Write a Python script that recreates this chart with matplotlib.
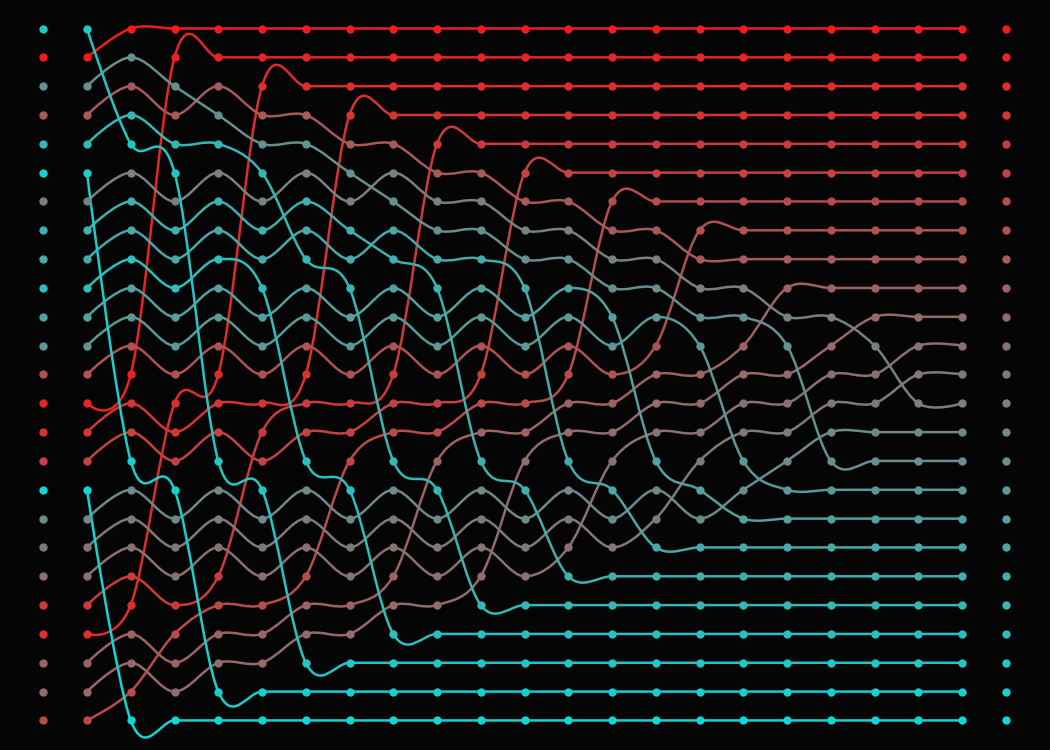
import numpy as np
import matplotlib
matplotlib.use("Agg")
import matplotlib.pyplot as plt
from matplotlib.path import Path
from matplotlib.patches import PathPatch

# starting order of the 25 values (0 = smallest, top row first)
order = [22, 0, 15, 8, 20, 23, 13, 19, 18, 21, 17, 16, 7, 1, 3, 5,
         24, 14, 12, 11, 4, 2, 9, 10, 6]
N = len(order)

# colour of the smallest and the largest value
c_lo = np.array([242, 28, 28]) / 255
c_hi = np.array([16, 214, 214]) / 255


def shaker_states(values):
    # cocktail shaker sort, keeps the array after every pass
    a = list(values)
    out = [a[:]]
    forward = True
    while True:
        swapped = False
        if forward:
            for i in range(len(a) - 1):
                if a[i] > a[i + 1]:
                    a[i], a[i + 1] = a[i + 1], a[i]
                    swapped = True
        else:
            for i in range(len(a) - 1, 0, -1):
                if a[i - 1] > a[i]:
                    a[i - 1], a[i] = a[i], a[i - 1]
                    swapped = True
        out.append(a[:])
        if not swapped:
            break
        forward = not forward
    return out


states = shaker_states(order)
ncol = len(states)
colors = [tuple(c_lo + (c_hi - c_lo) * v / (N - 1)) for v in range(N)]

bg = '#050505'
fig = plt.figure(figsize=(10.5, 7.5), dpi=100, facecolor=bg)
ax = fig.add_axes([0, 0, 1, 1])
ax.set_facecolor(bg)
ax.set_xlim(-87 / 43.75, (1050 - 87) / 43.75)
ax.set_ylim((750 - 28.5) / 28.83, -28.5 / 28.83)
ax.axis('off')

for v in range(N):
    pos = np.array([s.index(v) for s in states], dtype=float)
    pts = np.column_stack([np.arange(ncol), pos])
    # cardinal spline (tension 0), flat at both ends
    ext = np.vstack([pts[1], pts, pts[-2]])
    verts = [pts[0]]
    codes = [Path.MOVETO]
    for i in range(ncol - 1):
        p0, p1, p2, p3 = ext[i], ext[i + 1], ext[i + 2], ext[i + 3]
        verts += [p1 + (p2 - p0) / 6, p2 - (p3 - p1) / 6, p2]
        codes += [Path.CURVE4] * 3
    ax.add_patch(PathPatch(Path(verts, codes), fill=False, edgecolor=colors[v],
                           lw=1.8, capstyle='round', zorder=2))
    ax.plot(pts[:, 0], pts[:, 1], 'o', color=colors[v], ms=6, mec='none', zorder=3)

# loose dots: start order on the left, sorted order on the right
for row, v in enumerate(order):
    ax.plot(-1, row, 'o', color=colors[v], ms=6, mec='none')
for row in range(N):
    ax.plot(ncol, row, 'o', color=colors[row], ms=6, mec='none')

fig.savefig('out.png', dpi=100, facecolor=bg)
